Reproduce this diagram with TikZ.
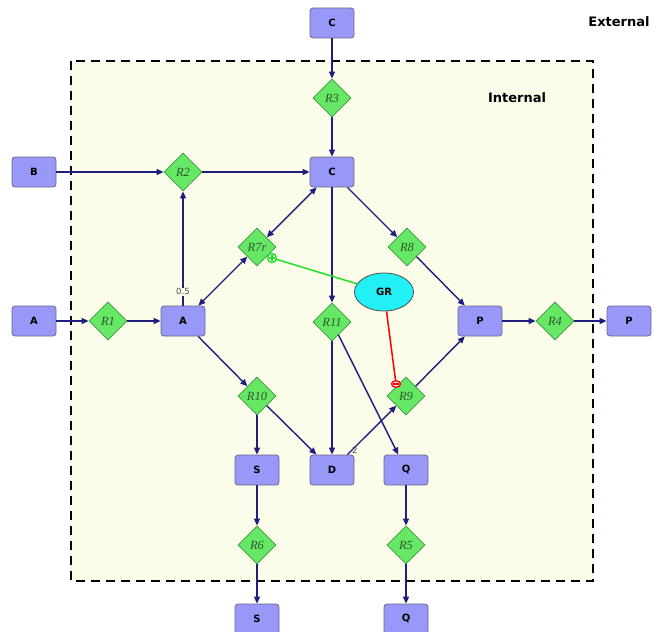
\documentclass[tikz,border=0pt]{standalone}
\usepackage{fontspec}
\setmainfont{Liberation Serif}
\newfontfamily\lblfont{DejaVu Sans}
\usetikzlibrary{shapes.geometric,arrows.meta,calc}
\definecolor{navy}{HTML}{1E1E7E}
\definecolor{boxfill}{HTML}{9898F8}
\definecolor{boxline}{HTML}{6A6A8A}
\definecolor{dfill}{HTML}{66E866}
\definecolor{dline}{HTML}{3C9A3C}
\definecolor{dtext}{HTML}{2E5A2E}
\definecolor{cream}{HTML}{FCFCEB}
\definecolor{grfill}{HTML}{22F0F4}
\definecolor{plusgreen}{HTML}{22E022}
\tikzset{
  species/.style={draw=boxline, line width=0.8pt, fill=boxfill, rounded corners=3pt,
    minimum width=44pt, minimum height=30pt, inner sep=0pt,
    font=\lblfont\fontsize{10}{10}\selectfont\bfseries},
  reaction/.style={diamond, draw=dline, line width=0.8pt, fill=dfill,
    minimum width=38pt, minimum height=38pt, inner sep=0pt,
    font=\fontsize{12.5}{12.5}\selectfont\itshape, text=dtext},
  flow/.style={draw=navy, line width=1.4pt, -{Triangle[length=7pt,width=6pt]}},
  biflow/.style={draw=navy, line width=1.4pt, {Triangle[length=7pt,width=6pt]}-{Triangle[length=7pt,width=6pt]}},
  stoich/.style={font=\lblfont\fontsize{8.5}{8.5}\selectfont, text=black!70, inner sep=0.5pt},
  regionlabel/.style={font=\lblfont\fontsize{13}{13}\selectfont\bfseries},
}
\begin{document}
\begin{tikzpicture}[x=1pt,y=-1pt]
\useasboundingbox[fill=white] (0,0) rectangle (660,631);
% compartment
\draw[fill=cream, line width=2.4pt, dash pattern=on 9pt off 6pt] (71,61) rectangle (593,581);
\node[regionlabel] (ext) at (619,22) {External};
\node[regionlabel] (int) at (517,98) {Internal};

% species
\node[species] (Cx) at (332,23) {C};
\node[species] (C) at (332,172) {C};
\node[species] (Bx) at (34,172) {B};
\node[species] (Ax) at (34,321) {A};
\node[species] (A) at (183,321) {A};
\node[species] (P) at (480,321) {P};
\node[species] (Px) at (629,321) {P};
\node[species] (S) at (257,470) {S};
\node[species] (D) at (332,470) {D};
\node[species] (Q) at (406,470) {Q};
\node[species] (Sx) at (257,619) {S};
\node[species] (Qx) at (406,619) {Q};

% reactions
\node[reaction] (R3) at (332,98) {R3};
\node[reaction] (R2) at (183,172) {R2};
\node[reaction] (R1) at (108,321) {R1};
\node[reaction] (R7r) at (257,247) {R7r};
\node[reaction] (R8) at (407,247) {R8};
\node[reaction] (R11) at (332,322) {R11};
\node[reaction] (R4) at (555,321) {R4};
\node[reaction] (R10) at (257,396) {R10};
\node[reaction] (R9) at (406,396) {R9};
\node[reaction] (R6) at (257,545) {R6};
\node[reaction] (R5) at (406,545) {R5};

% regulator
\node[ellipse, draw=black!70, line width=0.8pt, fill=grfill, minimum width=59pt, minimum height=38pt,
  inner sep=0pt, font=\lblfont\fontsize{10}{10}\selectfont\bfseries] (GR) at (384,292) {GR};

% edges
\draw[flow] (Cx) -- (R3);
\draw[flow] (R3) -- (C);
\draw[flow] (Bx) -- (R2);
\draw[flow] (R2) -- (C);
\draw[flow] (Ax) -- (R1);
\draw[flow] (R1) -- (A);
\draw[flow] (A) -- node[pos=0.12, stoich, fill=cream] {0.5} (R2);
\draw[biflow] (A) -- (R7r);
\draw[biflow] (R7r) -- (C);
\draw[flow] (C) -- (R8);
\draw[flow] (R8) -- (P);
\draw[flow] (C) -- (R11);
\draw[flow] (R11) -- (D);
\draw[flow] (R11) -- (Q);
\draw[flow] (A) -- (R10);
\draw[flow] (R10) -- (S);
\draw[flow] (R10) -- (D);
\draw[flow] (D) -- node[pos=0.07, stoich, anchor=west, xshift=0pt, yshift=1pt] {2} (R9);
\draw[flow] (R9) -- (P);
\draw[flow] (P) -- (R4);
\draw[flow] (R4) -- (Px);
\draw[flow] (S) -- (R6);
\draw[flow] (R6) -- (Sx);
\draw[flow] (Q) -- (R5);
\draw[flow] (R5) -- (Qx);

% modifiers
\draw[plusgreen, line width=1.5pt] (GR) -- (272,258) coordinate (pend);
\node[circle, draw=plusgreen, line width=1.4pt, fill=white, minimum size=9pt, inner sep=0pt] (plusm) at (pend) {};
\draw[plusgreen, line width=1.4pt] ($(plusm)+(-3,0)$) -- ($(plusm)+(3,0)$) ($(plusm)+(0,-3)$) -- ($(plusm)+(0,3)$);
\draw[red, line width=1.5pt] (GR) -- (396,384) coordinate (mend);
\node[ellipse, draw=red, line width=1.3pt, fill=white, minimum width=9pt, minimum height=6.5pt, inner sep=0pt] (minusm) at (mend) {};
\draw[red, line width=1.3pt] ($(minusm)+(-3,0)$) -- ($(minusm)+(3,0)$);
\end{tikzpicture}
\end{document}
